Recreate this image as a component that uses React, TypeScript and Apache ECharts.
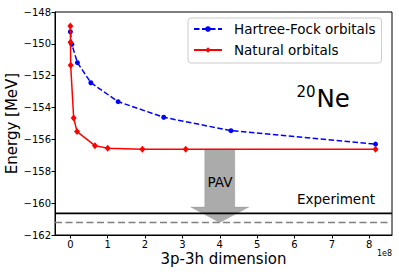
import React, { useEffect, useRef } from "react";
import * as echarts from "echarts";

// x values in units of 1e8
const hfX = [0.002, 0.04, 0.19, 0.55, 1.28, 2.5, 4.3, 8.17];
const hfY = [-149.24, -150.03, -151.18, -152.44, -153.63, -154.61, -155.45, -156.29];
const natX = [0.001, 0.005, 0.01, 0.09, 0.18, 0.66, 1.0, 1.93, 3.09, 8.17];
const natY = [-148.88, -149.9, -151.35, -154.65, -155.51, -156.39, -156.56, -156.62, -156.62, -156.62];
const experimentEnergy = -160.64;
const pavEnergy = -161.22;
const arrowX = 4.0;
const arrowTop = -156.62;
const xTicks = [0, 1, 2, 3, 4, 5, 6, 7, 8];
const xMin = -0.41;
const xMax = 8.61;
const yMin = -162;
const yMax = -148;

const FONT = "DejaVu Sans";
const fmtNum = (v: number) => (v < 0 ? "\u2212" + Math.abs(v) : String(v));

export default function App() {
  const ref = useRef<HTMLDivElement>(null);
  useEffect(() => {
    const chart = echarts.init(ref.current!, null, { renderer: "svg" });
    const option: any = {
      animation: false,
      backgroundColor: "#ffffff",
      textStyle: { fontFamily: FONT },
      grid: {
        left: 55,
        top: 12,
        width: 337,
        height: 223,
        show: true,
        borderColor: "#000",
        borderWidth: 1,
        backgroundColor: "transparent",
      },
      xAxis: {
        type: "value",
        min: xMin,
        max: xMax,
        splitLine: { show: false },
        axisLine: { show: true, onZero: false, lineStyle: { color: "#000", width: 1 } },
        axisTick: { show: true, length: 3.5, customValues: xTicks, lineStyle: { color: "#000" } },
        axisLabel: {
          customValues: xTicks,
          color: "#000",
          fontSize: 10,
          fontFamily: FONT,
          margin: 4,
          formatter: (v: number) => fmtNum(v),
        },
      },
      yAxis: {
        type: "value",
        min: yMin,
        max: yMax,
        interval: 2,
        splitLine: { show: false },
        axisLine: { show: true, onZero: false, lineStyle: { color: "#000", width: 1 } },
        axisTick: { show: true, length: 3.5, lineStyle: { color: "#000" } },
        axisLabel: {
          color: "#000",
          fontSize: 10,
          fontFamily: FONT,
          margin: 4,
          formatter: (v: number) => fmtNum(v),
        },
      },
      legend: {
        orient: "vertical",
        left: 188,
        top: 18,
        padding: [4, 6, 6, 5],
        itemWidth: 28,
        itemHeight: 7,
        itemGap: 7,
        borderColor: "#cccccc",
        borderWidth: 1,
        borderRadius: 3,
        backgroundColor: "rgba(255,255,255,0.8)",
        textStyle: { fontSize: 13.5, fontFamily: FONT, color: "#000", padding: [0, 0, 0, 7], lineHeight: 14 },
        data: ["Hartree-Fock orbitals", "Natural orbitals"],
      },
      series: [
        {
          type: "custom",
          name: "PAV arrow",
          silent: true,
          z: 1,
          data: [[arrowX, arrowTop, pavEnergy]],
          renderItem: (params: any, api: any) => {
            const top = api.coord([api.value(0), api.value(1)]);
            const tip = api.coord([api.value(0), api.value(2)]);
            const sw = 15;
            const hw = 29;
            const hh = 15.5;
            const baseY = tip[1] - hh;
            return {
              type: "polygon",
              shape: {
                points: [
                  [top[0] - sw, top[1]],
                  [top[0] + sw, top[1]],
                  [top[0] + sw, baseY],
                  [top[0] + hw, baseY],
                  [tip[0], tip[1]],
                  [top[0] - hw, baseY],
                  [top[0] - sw, baseY],
                ],
              },
              style: { fill: "rgba(128,128,128,0.66)", stroke: "rgba(128,128,128,0.3)", lineWidth: 1 },
            };
          },
        },
        {
          type: "line",
          name: "Experiment",
          silent: true,
          z: 2,
          symbol: "none",
          data: [[xMin, experimentEnergy], [xMax, experimentEnergy]],
          lineStyle: { color: "#000", width: 1.8 },
        },
        {
          type: "line",
          name: "PAV",
          silent: true,
          z: 2,
          symbol: "none",
          data: [[xMin, pavEnergy], [xMax, pavEnergy]],
          lineStyle: { color: "#808080", width: 1.5, type: [7, 3.5] },
        },
        {
          type: "line",
          name: "Hartree-Fock orbitals",
          z: 3,
          data: hfX.map((x, i) => [x, hfY[i]]),
          symbol: "circle",
          symbolSize: 5,
          itemStyle: { color: "#0000ff" },
          lineStyle: { color: "#0000ff", width: 1.5, type: [5.5, 2.5] },
        },
        {
          type: "line",
          name: "Natural orbitals",
          z: 4,
          data: natX.map((x, i) => [x, natY[i]]),
          symbol: "diamond",
          symbolSize: [6, 7],
          itemStyle: { color: "#ff0000" },
          lineStyle: { color: "#ff0000", width: 1.5 },
        },
      ],
      graphic: [
        {
          type: "text",
          x: 12,
          y: 123.5,
          rotation: Math.PI / 2,
          style: {
            text: "Energy [MeV]",
            fontSize: 15,
            fontFamily: FONT,
            fill: "#000",
            align: "center",
            verticalAlign: "middle",
          },
        },
        {
          type: "text",
          x: 223.5,
          y: 259,
          style: {
            text: "3p-3h dimension",
            fontSize: 15,
            fontFamily: FONT,
            fill: "#000",
            align: "center",
            verticalAlign: "middle",
          },
        },
        {
          type: "text",
          x: 392,
          y: 253,
          style: {
            text: "1e8",
            fontSize: 8,
            fontFamily: FONT,
            fill: "#000",
            align: "right",
            verticalAlign: "middle",
          },
        },
        {
          type: "text",
          x: 220,
          y: 182,
          z: 10,
          style: {
            text: "PAV",
            fontSize: 13.5,
            fontFamily: FONT,
            fill: "#000",
            align: "center",
            verticalAlign: "middle",
          },
        },
        {
          type: "text",
          x: 375,
          y: 198.5,
          style: {
            text: "Experiment",
            fontSize: 13.5,
            fontFamily: FONT,
            fill: "#000",
            align: "right",
            verticalAlign: "middle",
          },
        },
        {
          type: "text",
          x: 296.5,
          y: 91.5,
          style: {
            text: "20",
            fontSize: 15,
            fontFamily: FONT,
            fill: "#000",
            align: "left",
            verticalAlign: "middle",
          },
        },
        {
          type: "text",
          x: 316.5,
          y: 98.5,
          style: {
            text: "Ne",
            fontSize: 24.5,
            fontFamily: FONT,
            fill: "#000",
            align: "left",
            verticalAlign: "middle",
          },
        },
      ],
    };
    chart.setOption(option);
    return () => chart.dispose();
  }, []);
  return (
    <div
      ref={ref}
      style={{ position: "absolute", left: 0, top: 0, width: 399, height: 274 }}
    />
  );
}
